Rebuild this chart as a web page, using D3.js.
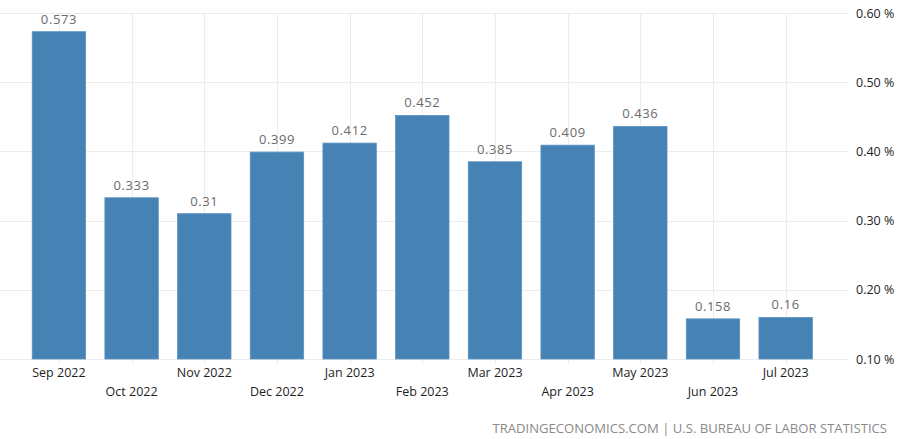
<!DOCTYPE html>
<html>
<head>
<meta charset="utf-8">
<script src="https://cdn.jsdelivr.net/npm/d3@7"></script>
<style>
body { margin: 0; background: #fff; }
svg { display: block; font-family: "Open Sans", "DejaVu Sans", sans-serif; }
</style>
</head>
<body>
<script>
/* data */
var months = ["Sep 2022", "Oct 2022", "Nov 2022", "Dec 2022", "Jan 2023", "Feb 2023",
	"Mar 2023", "Apr 2023", "May 2023", "Jun 2023", "Jul 2023"]
var values = [0.573, 0.333, 0.31, 0.399, 0.412, 0.452, 0.385, 0.409, 0.436, 0.158, 0.16]
var yTicks = [0.1, 0.2, 0.3, 0.4, 0.5, 0.6]
var source = "TRADINGECONOMICS.COM | U.S. BUREAU OF LABOR STATISTICS"

var width = 900, height = 439

var svg = d3.select("body").append("svg")
	.attr("width", width)
	.attr("height", height)

var xScale = d3.scaleBand()
	.domain(months)
	.range([22.6, 822])
	.paddingInner(0.265)
	.paddingOuter(0.1325)

var yScale = d3.scaleLinear()
	.domain([0.1, 0.6])
	.range([359, 13])

/*grid*/
var grid = svg.append("g").attr("class", "grid")

grid.selectAll(".hgrid")
	.data(yTicks)
	.enter()
	.append("line")
	.attr("x1", 0)
	.attr("x2", 849)
	.attr("y1", function(d){return Math.round(yScale(d)) + 0.5})
	.attr("y2", function(d){return Math.round(yScale(d)) + 0.5})
	.attr("stroke", "#ececec")

grid.selectAll(".vgrid")
	.data(months)
	.enter()
	.append("line")
	.attr("x1", function(d){return Math.round(xScale(d) + xScale.bandwidth() / 2) + 0.5})
	.attr("x2", function(d){return Math.round(xScale(d) + xScale.bandwidth() / 2) + 0.5})
	.attr("y1", 13)
	.attr("y2", 364)
	.attr("stroke", "#ececec")

/*bars*/
svg.selectAll(".bar")
	.data(values)
	.enter()
	.append("rect")
	.attr("class", "bar")
	.attr("x", function(d, i){return xScale(months[i])})
	.attr("width", xScale.bandwidth())
	.attr("y", function(d){return yScale(d)})
	.attr("height", function(d){return yScale(0.1) - yScale(d)})
	.attr("fill", "#4682b4")
	.attr("stroke", "#5a93c2")
	.attr("stroke-width", 0.8)

/*value labels*/
svg.selectAll(".val")
	.data(values)
	.enter()
	.append("text")
	.attr("x", function(d, i){return xScale(months[i]) + xScale.bandwidth() / 2})
	.attr("y", function(d){return yScale(d) - 8})
	.attr("text-anchor", "middle")
	.attr("fill", "#6b6b6b")
	.attr("font-size", 13)
	.attr("letter-spacing", 0.6)
	.text(function(d){return d})

/*x axis labels, staggered*/
svg.selectAll(".xlab")
	.data(months)
	.enter()
	.append("text")
	.attr("x", function(d){return xScale(d) + xScale.bandwidth() / 2})
	.attr("y", function(d, i){return i % 2 == 0 ? 377 : 396})
	.attr("text-anchor", "middle")
	.attr("fill", "#1e1e1e")
	.attr("font-size", 12.5)
	.text(function(d){return d})

/*y axis on the right*/
var yAxis = d3.axisRight(yScale)
	.tickValues(yTicks)
	.tickSize(0)
	.tickFormat(function(d){return d3.format(".2f")(d) + " %"})

var yG = svg.append("g")
	.attr("transform", "translate(856, 0)")
	.call(yAxis)

yG.select(".domain").remove()
yG.selectAll("text")
	.attr("x", 0)
	.attr("font-family", "\"Open Sans\", \"DejaVu Sans\", sans-serif")
	.attr("font-size", 12.5)
	.attr("fill", "#1e1e1e")

/*source*/
svg.append("text")
	.attr("x", 887)
	.attr("y", 433)
	.attr("text-anchor", "end")
	.attr("fill", "#8a8a8a")
	.attr("font-size", 13.1)
	.text(source)
</script>
</body>
</html>
